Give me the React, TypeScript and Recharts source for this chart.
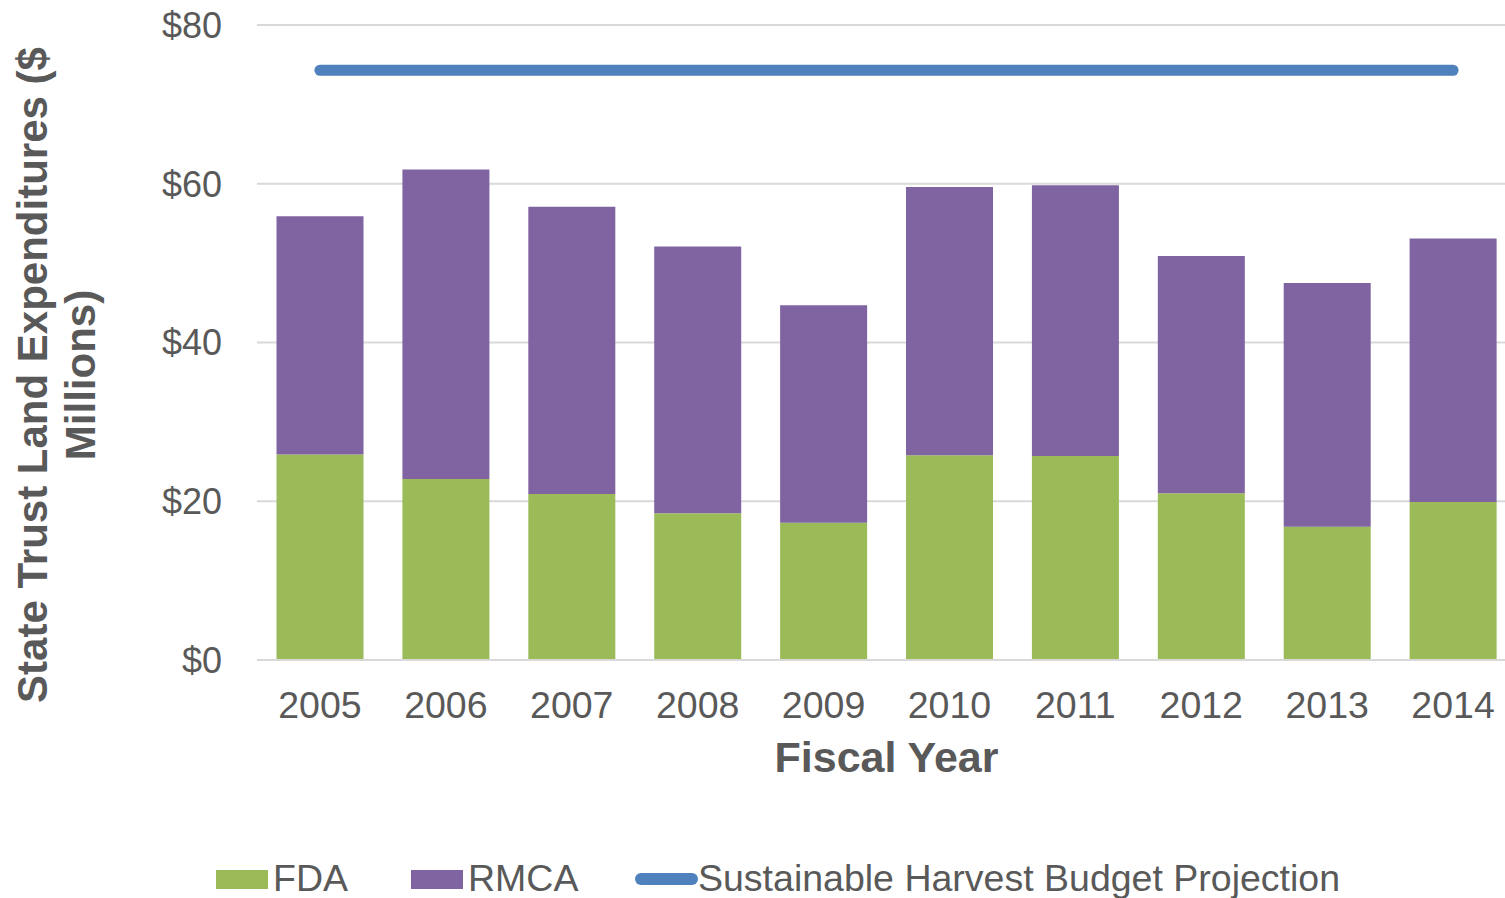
import { Bar, CartesianGrid, ComposedChart, Label, Legend, Line, XAxis, YAxis } from "recharts"

const years = ["2005", "2006", "2007", "2008", "2009", "2010", "2011", "2012", "2013", "2014"]
const fda = [25.9, 22.8, 20.9, 18.5, 17.3, 25.8, 25.7, 21.0, 16.8, 19.9]
const rmcaTotal = [55.9, 61.8, 57.1, 52.1, 44.7, 59.6, 59.8, 50.9, 47.5, 53.1]
const budget = [74.3, 74.3, 74.3, 74.3, 74.3, 74.3, 74.3, 74.3, 74.3, 74.3]
const yTicks = [0, 20, 40, 60, 80]

const data = years.map((y, i) => ({
  year: y,
  fda: fda[i],
  rmca: +(rmcaTotal[i] - fda[i]).toFixed(1),
  budget: budget[i],
}))

const C = {
  fda: "#9bbb59",
  rmca: "#8064a2",
  line: "#4f81bd",
  text: "#595959",
  grid: "#d9d9d9",
}
const font = "'Liberation Sans', Arial, sans-serif"

function LegendBox() {
  const txt = { position: "absolute" as const, top: 13, fontSize: 37.5, color: C.text, fontFamily: font, lineHeight: "34px" }
  return (
    <div style={{ position: "relative", height: 50, width: "100%" }}>
      <div style={{ position: "absolute", left: 216, top: 22, width: 52, height: 19, background: C.fda }} />
      <span style={{ ...txt, left: 273 }}>FDA</span>
      <div style={{ position: "absolute", left: 411, top: 22, width: 52, height: 19, background: C.rmca }} />
      <span style={{ ...txt, left: 468 }}>RMCA</span>
      <div style={{ position: "absolute", left: 635, top: 25, width: 63, height: 12, borderRadius: 6, background: C.line }} />
      <span style={{ ...txt, left: 698 }}>Sustainable Harvest Budget Projection</span>
    </div>
  )
}

function YTitle() {
  const s = { fill: C.text, fontSize: 42, fontWeight: 700, fontFamily: font }
  return (
    <g>
      <text x={32} y={375} transform="rotate(-90 32 375)" textAnchor="middle" dominantBaseline="central" {...s}>
        State Trust Land Expenditures ($
      </text>
      <text x={80} y={375} transform="rotate(-90 80 375)" textAnchor="middle" dominantBaseline="central" {...s}>
        Millions)
      </text>
    </g>
  )
}

export default function App() {
  return (
    <div style={{ position: "absolute", left: 0, top: 0, width: 1505, height: 898, overflow: "hidden", background: "#fff" }}>
      <ComposedChart
        width={1516}
        height={898}
        data={data}
        margin={{ top: 25, right: 0, bottom: 0, left: 0 }}
        barCategoryGap="15.5%"
        style={{ fontFamily: font }}
      >
        <CartesianGrid vertical={false} stroke={C.grid} strokeWidth={2} />
        <XAxis
          dataKey="year"
          height={188}
          tickLine={false}
          tickSize={0}
          tickMargin={31}
          axisLine={{ stroke: C.grid, strokeWidth: 2 }}
          tick={{ fill: C.text, fontSize: 37.5, fontFamily: font }}
          interval={0}
        >
          <Label
            content={({ viewBox }: any) => (
              <text
                x={viewBox.x + viewBox.width / 2}
                y={772}
                textAnchor="middle"
                fill={C.text}
                fontSize={43}
                fontWeight={700}
                fontFamily={font}
              >
                Fiscal Year
              </text>
            )}
          />
        </XAxis>
        <YAxis
          width={257}
          domain={[0, 80]}
          ticks={yTicks}
          tickFormatter={(v) => `$${v}`}
          axisLine={false}
          tickLine={false}
          tickSize={0}
          tickMargin={35}
          tick={{ fill: C.text, fontSize: 36, fontFamily: font }}
        >
          <Label content={() => <YTitle />} />
        </YAxis>
        <Legend verticalAlign="bottom" content={() => <LegendBox />} />
        <Bar dataKey="fda" stackId="a" fill={C.fda} isAnimationActive={false} />
        <Bar dataKey="rmca" stackId="a" fill={C.rmca} isAnimationActive={false} />
        <Line
          dataKey="budget"
          stroke={C.line}
          strokeWidth={11}
          strokeLinecap="round"
          dot={false}
          activeDot={false}
          isAnimationActive={false}
        />
      </ComposedChart>
    </div>
  )
}
